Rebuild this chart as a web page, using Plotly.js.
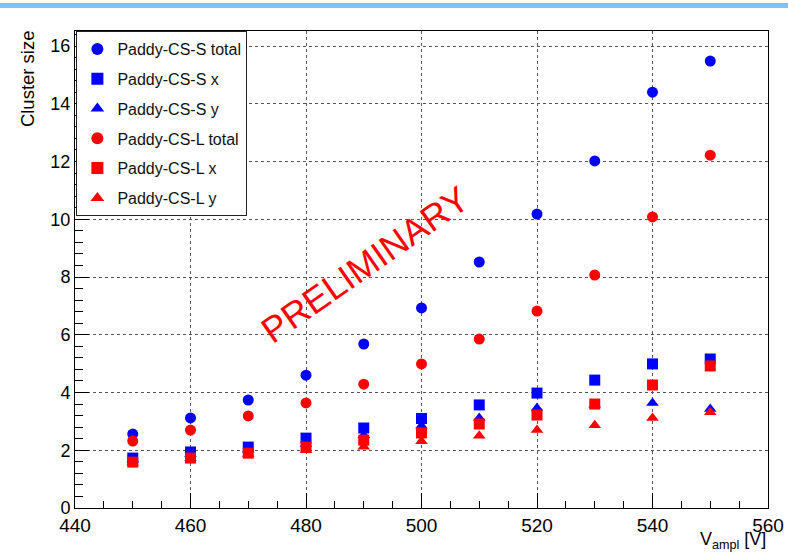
<!DOCTYPE html>
<html>
<head>
<meta charset="utf-8">
<script src="https://cdn.plot.ly/plotly-3.0.1.min.js"></script>
<style>html,body{margin:0;padding:0;background:#fff;}#chart{width:788px;height:557px;}</style>
</head>
<body>
<div id="chart"></div>
<script>
const voltages = [450, 460, 470, 480, 490, 500, 510, 520, 530, 540, 550];
const csS_total = [2.56, 3.12, 3.74, 4.60, 5.68, 6.93, 8.52, 10.18, 12.02, 14.40, 15.48];
const csS_x     = [1.73, 1.94, 2.11, 2.42, 2.77, 3.10, 3.57, 3.98, 4.43, 4.99, 5.16];
const csS_y     = [1.68, 1.86, 2.02, 2.22, 2.52, 2.85, 3.12, 3.46, 3.58, 3.64, 3.43];
const csL_total = [2.32, 2.70, 3.19, 3.64, 4.29, 4.99, 5.85, 6.82, 8.07, 10.08, 12.22];
const csL_x     = [1.59, 1.73, 1.90, 2.11, 2.35, 2.60, 2.91, 3.22, 3.60, 4.26, 4.92];
const csL_y     = [1.57, 1.72, 1.87, 2.00, 2.12, 2.31, 2.50, 2.70, 2.87, 3.12, 3.32];
const seriesNames = ['Paddy-CS-S total', 'Paddy-CS-S x', 'Paddy-CS-S y',
                     'Paddy-CS-L total', 'Paddy-CS-L x', 'Paddy-CS-L y'];
const xTickVals = [440, 460, 480, 500, 520, 540, 560];
const yTickVals = [0, 2, 4, 6, 8, 10, 12, 14, 16];

const blue = '#0000ff', red = '#ff0000';
const seriesY = [csS_total, csS_x, csS_y, csL_total, csL_x, csL_y];
const symbols = ['circle', 'square', 'triangle-up', 'circle', 'square', 'triangle-up'];
const colors = [blue, blue, blue, red, red, red];

const traces = seriesY.map((ys, i) => ({
  type: 'scatter', mode: 'markers',
  x: voltages, y: ys, name: seriesNames[i],
  legendgroup: 'g' + i,
  marker: {symbol: symbols[i], size: 11, color: colors[i], line: {width: 0}},
  cliponaxis: false
}));

const font = 'Liberation Sans, Arial, Helvetica, sans-serif';

const layout = {
  width: 788, height: 557,
  margin: {l: 75, r: 20, t: 31, b: 49},
  paper_bgcolor: '#ffffff', plot_bgcolor: '#ffffff',
  showlegend: true,
  legend: {
    x: 0.002, y: 1, xanchor: 'left', yanchor: 'top',
    bgcolor: '#ffffff', bordercolor: '#222222', borderwidth: 1,
    font: {family: font, size: 16, color: '#111111'},
    traceorder: 'grouped', tracegroupgap: 6,
    itemsizing: 'constant'
  },
  xaxis: {
    range: [440, 560], tickmode: 'array', tickvals: xTickVals,
    ticks: 'inside', ticklen: 15, tickcolor: '#000', tickwidth: 1,
    minor: {dtick: 5, ticks: 'inside', ticklen: 7, tickcolor: '#000', showgrid: false},
    showgrid: true, gridcolor: '#555555', griddash: 'dot', gridwidth: 1,
    zeroline: false, showline: true, linecolor: '#000', linewidth: 1, mirror: true,
    tickfont: {family: font, size: 19, color: '#000'}
  },
  yaxis: {
    range: [0, 16.52], tickmode: 'array', tickvals: yTickVals,
    ticks: 'inside', ticklen: 14, tickcolor: '#000', tickwidth: 1,
    minor: {dtick: 0.4, ticks: 'inside', ticklen: 8, tickcolor: '#000', showgrid: false},
    showgrid: true, gridcolor: '#555555', griddash: 'dot', gridwidth: 1,
    zeroline: false, showline: true, linecolor: '#000', linewidth: 1, mirror: true,
    tickfont: {family: font, size: 18, color: '#000'}
  },
  shapes: [{
    type: 'rect', xref: 'paper', yref: 'paper',
    x0: -75/693, x1: 1 + 20/693, y0: 1 + 23/477, y1: 1 + 28/477,
    fillcolor: '#7fc2fb', line: {width: 0}, layer: 'above'
  }],
  annotations: [
    {text: 'Cluster size', xref: 'paper', yref: 'paper', x: -48/693, y: 1.005,
     xanchor: 'center', yanchor: 'top', textangle: -90, showarrow: false,
     font: {family: font, size: 18.5, color: '#000'}},
    {text: 'V<sub>ampl</sub> [V]', xref: 'paper', yref: 'paper', x: 1.0, y: -19/477,
     xanchor: 'right', yanchor: 'top', showarrow: false,
     font: {family: font, size: 18, color: '#000'}},
    {text: 'PRELIMINARY', xref: 'x', yref: 'y', x: 490.2, y: 8.45,
     xanchor: 'center', yanchor: 'middle', textangle: -35, showarrow: false,
     font: {family: font, size: 36, color: red}}
  ]
};

Plotly.newPlot('chart', traces, layout, {displayModeBar: false, staticPlot: true});
</script>
</body>
</html>
